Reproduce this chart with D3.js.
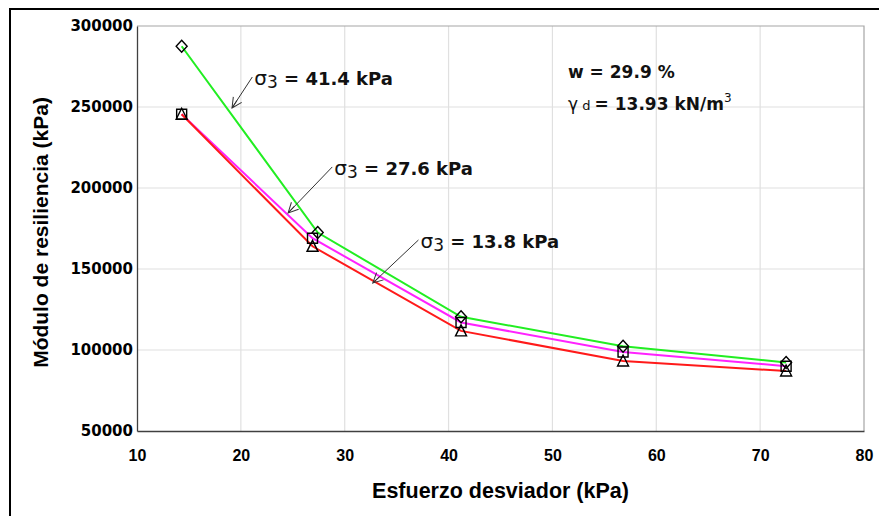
<!DOCTYPE html>
<html>
<head>
<meta charset="utf-8">
<script src="https://cdnjs.cloudflare.com/ajax/libs/d3/7.8.5/d3.min.js"></script>
<style>
  body { margin: 0; background: #fff; }
  svg { display: block; }
</style>
</head>
<body>
<div id="chart"></div>
<script>
// data
var xTicks = [10, 20, 30, 40, 50, 60, 70, 80];
var yTicks = [50000, 100000, 150000, 200000, 250000, 300000];

var sigma414 = [[14.3, 287500], [27.4, 172500], [41.2, 120500], [56.8, 102300], [72.5, 92300]];
var sigma276 = [[14.3, 245500], [26.9, 169000], [41.2, 117000], [56.8, 98800], [72.5, 90000]];
var sigma138 = [[14.3, 245500], [26.9, 164000], [41.2, 111800], [56.8, 93200], [72.5, 87000]];

var seriesColors = ["#22ee22", "#ff22ff", "#ff1a1a"];
var seriesMarkers = ["diamond", "square", "triangle"];

// annotation: label, arrow tail [x, y], arrow head [x, y] in data units
var notes = [
  { label: "41.4 kPa", tail: [21.1, 268500], head: [19.15, 249400] },
  { label: "27.6 kPa", tail: [28.8, 213000], head: [24.55, 184600] },
  { label: "13.8 kPa", tail: [37.1, 167900], head: [32.7, 141300] }
];

var visualize = function() {
  var W = 879, H = 516;
  var plot = { left: 137, right: 864, top: 26, bottom: 431 };

  var svg = d3.select("#chart").append("svg")
    .attr("width", W)
    .attr("height", H);

  // outer frame (runs off the right and bottom edge)
  svg.append("rect")
    .attr("x", 10).attr("y", 9)
    .attr("width", 900).attr("height", 540)
    .attr("fill", "none")
    .attr("stroke", "#000")
    .attr("stroke-width", 2);

  var x = d3.scaleLinear().domain([10, 80]).range([plot.left, plot.right]);
  var y = d3.scaleLinear().domain([50000, 300000]).range([plot.bottom, plot.top]);

  // gridlines
  svg.append("g").selectAll("line")
    .data(xTicks.slice(1, -1))
    .enter().append("line")
    .attr("x1", function(d) { return x(d); })
    .attr("x2", function(d) { return x(d); })
    .attr("y1", plot.top).attr("y2", plot.bottom)
    .attr("stroke", "#e0e0e0").attr("stroke-width", 1.2);

  svg.append("g").selectAll("line")
    .data(yTicks.slice(1, -1))
    .enter().append("line")
    .attr("y1", function(d) { return y(d); })
    .attr("y2", function(d) { return y(d); })
    .attr("x1", plot.left).attr("x2", plot.right)
    .attr("stroke", "#e0e0e0").attr("stroke-width", 1.2);

  // top / right border of plot area
  svg.append("path")
    .attr("d", "M" + plot.left + "," + plot.top + "H" + plot.right + "V" + plot.bottom)
    .attr("fill", "none")
    .attr("stroke", "#a6a6a6")
    .attr("stroke-width", 1.2);

  // axes
  var xAxis = svg.append("g")
    .attr("transform", "translate(0," + plot.bottom + ")")
    .call(d3.axisBottom(x).tickValues(xTicks).tickSize(0).tickPadding(19));
  xAxis.select(".domain").attr("stroke", "#404040").attr("stroke-width", 1.3);
  xAxis.selectAll("text")
    .attr("font-family", "'Liberation Sans', Arial, sans-serif")
    .attr("font-weight", "bold")
    .attr("font-size", 16)
    .attr("fill", "#000");

  var yAxis = svg.append("g")
    .attr("transform", "translate(" + plot.left + ",0)")
    .call(d3.axisLeft(y).tickValues(yTicks).tickSize(0).tickPadding(4).tickFormat(d3.format("d")));
  yAxis.select(".domain").attr("stroke", "#404040").attr("stroke-width", 1.3);
  yAxis.selectAll("text")
    .attr("font-family", "'DejaVu Sans', sans-serif")
    .attr("font-weight", "bold")
    .attr("font-size", 15)
    .attr("fill", "#000");

  // axis titles
  svg.append("text")
    .attr("x", (plot.left + plot.right) / 2)
    .attr("y", 498)
    .attr("text-anchor", "middle")
    .attr("font-family", "'Liberation Sans', Arial, sans-serif")
    .attr("font-weight", "bold")
    .attr("font-size", 21.5)
    .text("Esfuerzo desviador (kPa)");

  svg.append("text")
    .attr("transform", "translate(48," + ((95 + 370) / 2) + ") rotate(-90)")
    .attr("text-anchor", "middle")
    .attr("font-family", "'Liberation Sans', Arial, sans-serif")
    .attr("font-weight", "bold")
    .attr("font-size", 21)
    .text("Módulo de resiliencia (kPa)");

  // series lines
  var allSeries = [sigma414, sigma276, sigma138];
  var line = d3.line()
    .x(function(d) { return x(d[0]); })
    .y(function(d) { return y(d[1]); });

  allSeries.forEach(function(s, i) {
    svg.append("path")
      .datum(s)
      .attr("d", line)
      .attr("fill", "none")
      .attr("stroke", seriesColors[i])
      .attr("stroke-width", 2);
  });

  // markers
  var markerPath = {
    diamond: "M0,-6L5.5,0L0,6L-5.5,0Z",
    square: "M-5,-5H5V5H-5Z",
    triangle: "M0,-6L5.5,5H-5.5Z"
  };
  allSeries.forEach(function(s, i) {
    svg.append("g").selectAll("path")
      .data(s)
      .enter().append("path")
      .attr("transform", function(d) { return "translate(" + x(d[0]) + "," + y(d[1]) + ")"; })
      .attr("d", markerPath[seriesMarkers[i]])
      .attr("fill", "none")
      .attr("stroke", "#000")
      .attr("stroke-width", 1.4);
  });

  // arrow annotations
  svg.append("defs").append("marker")
    .attr("id", "head")
    .attr("viewBox", "0 0 12 12")
    .attr("refX", 11).attr("refY", 6)
    .attr("markerWidth", 12).attr("markerHeight", 12)
    .attr("markerUnits", "userSpaceOnUse")
    .attr("orient", "auto")
    .append("path")
    .attr("d", "M1,1L11,6L1,11M2,6H11")
    .attr("fill", "none")
    .attr("stroke", "#333")
    .attr("stroke-width", 1);

  notes.forEach(function(n) {
    svg.append("line")
      .attr("x1", x(n.tail[0])).attr("y1", y(n.tail[1]))
      .attr("x2", x(n.head[0])).attr("y2", y(n.head[1]))
      .attr("stroke", "#333")
      .attr("stroke-width", 1)
      .attr("marker-end", "url(#head)");

    var t = svg.append("text")
      .attr("x", x(n.tail[0]) + 2)
      .attr("y", y(n.tail[1]) + 8)
      .attr("font-family", "'DejaVu Sans', sans-serif")
      .attr("font-size", 18)
      .attr("fill", "#111");
    t.append("tspan").attr("font-size", 20).text("σ");
    t.append("tspan").attr("dy", 3).attr("font-size", 17).text("3");
    t.append("tspan").attr("dy", -3).attr("font-weight", "bold").text(" = " + n.label);
  });

  // soil properties
  var info = svg.append("g")
    .attr("font-family", "'DejaVu Sans', sans-serif")
    .attr("fill", "#111");
  info.append("text")
    .attr("x", 568).attr("y", 78)
    .attr("font-size", 17)
    .attr("font-weight", "bold")
    .text("w = 29.9 %");
  var g2 = info.append("text")
    .attr("x", 568).attr("y", 110)
    .attr("font-size", 17);
  g2.append("tspan").text("γ");
  g2.append("tspan").attr("font-size", 13).text(" d ");
  g2.append("tspan").attr("font-weight", "bold").text("= 13.93 kN/m");
  g2.append("tspan").attr("dy", -8).attr("font-size", 12).text("3");
};

visualize();
</script>
</body>
</html>
